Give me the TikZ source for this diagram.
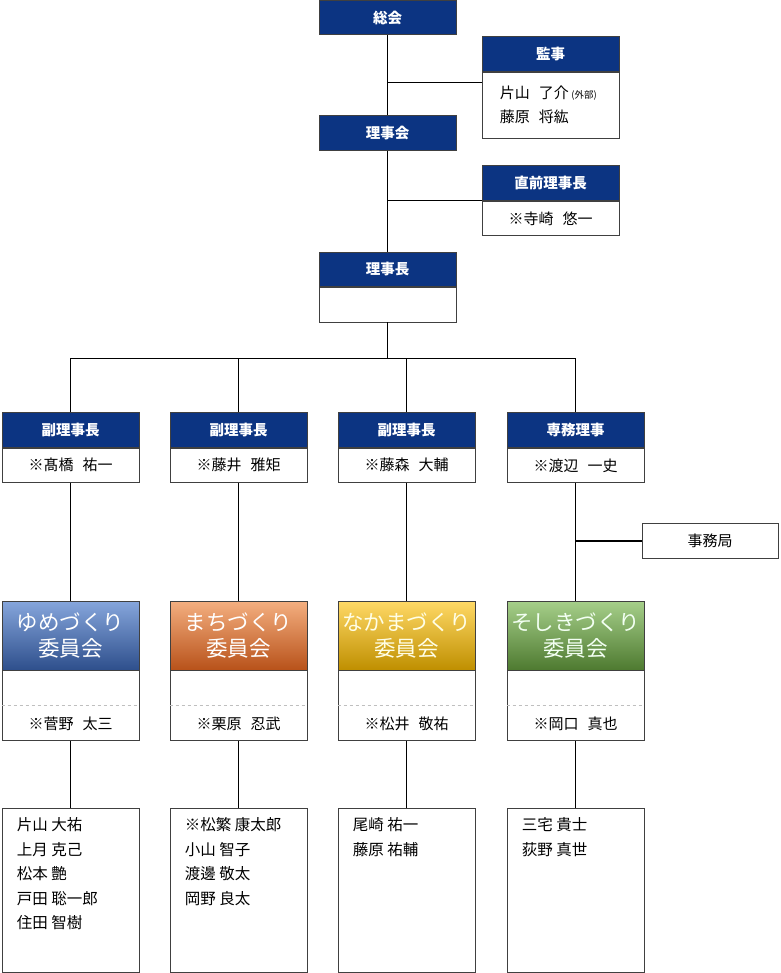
\documentclass[tikz,border=0pt]{standalone}
\usepackage{fontspec}
\setmainfont{Noto Sans CJK JP}
\usetikzlibrary{positioning,calc}
\definecolor{hdblue}{HTML}{0C3482}
\definecolor{yumeT}{HTML}{86A6DC}
\definecolor{yumeM}{HTML}{4A74C0}
\definecolor{yumeB}{HTML}{2E4F8C}
\definecolor{machiT}{HTML}{F4AF80}
\definecolor{machiM}{HTML}{EC7F35}
\definecolor{machiB}{HTML}{B8521A}
\definecolor{nakaT}{HTML}{FFD966}
\definecolor{nakaM}{HTML}{FFC000}
\definecolor{nakaB}{HTML}{BF8F00}
\definecolor{soshiT}{HTML}{A6CF8A}
\definecolor{soshiM}{HTML}{6FA846}
\definecolor{soshiB}{HTML}{4E7A30}

\begin{document}
\begin{tikzpicture}[
  x=1pt, y=-1pt,
  font=\fontsize{15}{18}\selectfont,
  head/.style={draw=black!75, fill=hdblue, text=white, line width=0.8pt,
               minimum width=137pt, minimum height=34.5pt, inner sep=0pt,
               font=\fontsize{14.5}{16}\selectfont\bfseries},
  body/.style={draw=black!75, fill=white, line width=0.8pt,
               minimum width=137pt, minimum height=34.5pt, inner sep=0pt},
  iinkai/.style={draw=black!75, line width=0.8pt, minimum width=137pt,
                 minimum height=69pt, inner sep=0pt, align=center,
                 text=white, font=\fontsize{21.5}{26.5}\selectfont},
  list/.style={draw=black!75, fill=white, line width=0.8pt,
               minimum width=137pt, minimum height=164pt, inner sep=0pt},
  names/.style={anchor=north west, align=left, inner sep=0pt,
                font=\fontsize{15.5}{24.5}\selectfont},
  sep/.style={draw=black!25, dashed, line width=0.8pt},
  conn/.style={line width=1.4pt},
]
\useasboundingbox (0,0) rectangle (780,973);

% ---- top: general meeting, board, chairman ----
\node[head] (sokai) at (387.5,17.5) {総会};
\node[head] (rijikai) at (387.5,133) {理事会};
\node[head] (rijicho) at (387.5,269.5) {理事長};
\node[body, below=0pt of rijicho] (rijichob) {};

% ---- auditors ----
\node[head] (kanji) at (550.5,54) {監事};
\node[body, below=0pt of kanji, minimum height=66pt] (kanjib) {};
\node[anchor=north west, align=left, inner sep=0pt,
      font=\fontsize{15}{24}\selectfont] (kanjin)
  at ($(kanjib.north west)+(18,14)$)
  {片山\hspace{0.6em}了介\,{\fontsize{9.5}{9.5}\selectfont (外部)}\\藤原\hspace{0.6em}将紘};

% ---- former chairman ----
\node[head] (zen) at (550.5,183) {直前理事長};
\node[body, below=0pt of zen] (zenb) {※寺崎\hspace{0.6em}悠一};

% ---- vice chairmen and executive director ----
\node[head] (h1) at (70.5,430) {副理事長};
\node[body, below=0pt of h1] (b1) {※髙橋\hspace{0.6em}祐一};
\node[head] (h2) at (238.5,430) {副理事長};
\node[body, below=0pt of h2] (b2) {※藤井\hspace{0.6em}雅矩};
\node[head] (h3) at (406.5,430) {副理事長};
\node[body, below=0pt of h3] (b3) {※藤森\hspace{0.6em}大輔};
\node[head] (h4) at (575.5,430) {専務理事};
\node[body, below=0pt of h4] (b4) {※渡辺\hspace{0.6em}一史};

% ---- secretariat ----
\node[body, minimum width=136pt] (jimu) at (710,541) {事務局};

% ---- committees ----
\node[iinkai, top color=yumeT, middle color=yumeM, bottom color=yumeB]
  (c1) at (70.5,635.5) {ゆめづくり\\委員会};
\node[body, below=0pt of c1, minimum height=70pt] (cb1) {};
\node[iinkai, top color=machiT, middle color=machiM, bottom color=machiB]
  (c2) at (238.5,635.5) {まちづくり\\委員会};
\node[body, below=0pt of c2, minimum height=70pt] (cb2) {};
\node[iinkai, top color=nakaT, middle color=nakaM, bottom color=nakaB,
      text=yellow!10]
  (c3) at (406.5,635.5) {なかまづくり\\委員会};
\node[body, below=0pt of c3, minimum height=70pt] (cb3) {};
\node[iinkai, top color=soshiT, middle color=soshiM, bottom color=soshiB,
      text=green!5]
  (c4) at (575.5,635.5) {そしきづくり\\委員会};
\node[body, below=0pt of c4, minimum height=70pt] (cb4) {};

\draw[sep] (cb1.west) -- (cb1.east);
\draw[sep] (cb2.west) -- (cb2.east);
\draw[sep] (cb3.west) -- (cb3.east);
\draw[sep] (cb4.west) -- (cb4.east);
\node (n1) at ($(cb1.south)+(0,-17.5)$) {※菅野\hspace{0.6em}太三};
\node (n2) at ($(cb2.south)+(0,-17.5)$) {※栗原\hspace{0.6em}忍武};
\node (n3) at ($(cb3.south)+(0,-17.5)$) {※松井\hspace{0.6em}敬祐};
\node (n4) at ($(cb4.south)+(0,-17.5)$) {※岡口\hspace{0.6em}真也};

% ---- member lists ----
\node[list] (l1) at (70.5,890) {};
\node[names] at ($(l1.north west)+(15,10)$)
  {片山 大祐\\上月 克己\\松本 艶\\戸田 聡一郎\\住田 智樹};
\node[list] (l2) at (238.5,890) {};
\node[names] at ($(l2.north west)+(15,10)$)
  {※松繁 康太郎\\小山 智子\\渡邊 敬太\\岡野 良太};
\node[list] (l3) at (406.5,890) {};
\node[names] at ($(l3.north west)+(15,10)$)
  {尾崎 祐一\\藤原 祐輔};
\node[list] (l4) at (575.5,890) {};
\node[names] at ($(l4.north west)+(15,10)$)
  {三宅 貴士\\荻野 真世};

% ---- connectors ----
\draw[conn] (sokai.south) -- (rijikai.north);
\draw[conn] (rijikai.south) -- (rijicho.north);
\coordinate (kj) at ($(kanjib.north west)+(0,11)$);
\draw[conn] (kj) -- (kj -| sokai.south);
\draw[conn] (zenb.north west) -- (zenb.north west -| rijikai.south);
\coordinate (bar) at ($(rijichob.south)+(0,36)$);
\draw[conn] (rijichob.south) -- (bar);
\draw[conn] (h1.north) -- (h1.north |- bar) -- (h4.north |- bar) -- (h4.north);
\draw[conn] (h2.north) -- (h2.north |- bar);
\draw[conn] (h3.north) -- (h3.north |- bar);
\draw[conn] (b1.south) -- (c1.north);
\draw[conn] (b2.south) -- (c2.north);
\draw[conn] (b3.south) -- (c3.north);
\draw[conn] (b4.south) -- (c4.north);
\draw[conn] (jimu.west) -- (jimu.west -| b4.south);
\draw[conn] (cb1.south) -- (l1.north);
\draw[conn] (cb2.south) -- (l2.north);
\draw[conn] (cb3.south) -- (l3.north);
\draw[conn] (cb4.south) -- (l4.north);
\end{tikzpicture}
\end{document}
